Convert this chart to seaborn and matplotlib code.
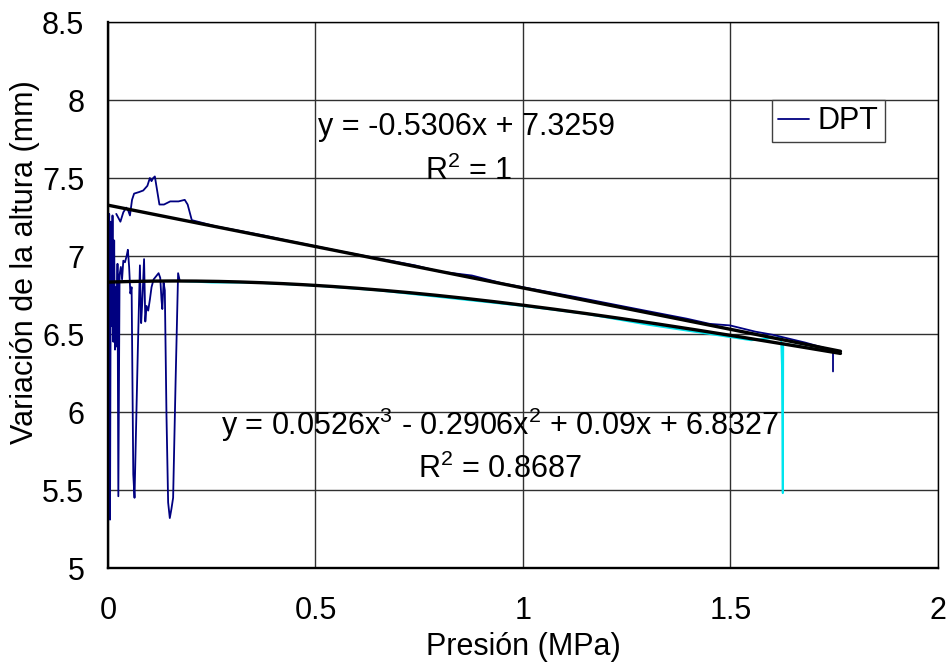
import numpy as np
import pandas as pd
import matplotlib
matplotlib.use("Agg")
import matplotlib.pyplot as plt
import seaborn as sns

# ---- DPT readings (pressure in MPa, height in mm) ----
# loading transient near zero pressure
dpt_low_x = [0.000, 0.003, 0.005, 0.007, 0.009, 0.011, 0.013, 0.015, 0.017, 0.019,
             0.021, 0.023, 0.025, 0.028, 0.031, 0.034, 0.037, 0.041, 0.045, 0.048,
             0.051, 0.054, 0.057, 0.061, 0.064, 0.068, 0.072, 0.077, 0.080, 0.083,
             0.087, 0.090, 0.093, 0.097, 0.101, 0.105, 0.110, 0.116, 0.122, 0.126,
             0.129, 0.131, 0.134, 0.137, 0.141, 0.145, 0.149, 0.153, 0.157, 0.163,
             0.169, 0.173]
dpt_low_y = [6.84, 7.27, 5.31, 7.22, 6.55, 7.26, 6.45, 7.10, 6.40, 6.80,
             6.42, 6.95, 5.46, 6.88, 6.93, 6.85, 6.97, 6.96, 7.00, 7.04,
             6.93, 6.76, 6.80, 5.60, 5.45, 5.93, 6.40, 6.94, 6.57, 6.72,
             6.98, 6.58, 6.68, 6.65, 6.72, 6.80, 6.85, 6.87, 6.89, 6.86,
             6.72, 6.66, 6.83, 6.78, 5.98, 5.42, 5.32, 5.38, 5.45, 6.20,
             6.89, 6.84]

# main compression run
dpt_main_x = [0.020, 0.030, 0.037, 0.044, 0.049, 0.053, 0.058, 0.063, 0.075, 0.085,
              0.095, 0.101, 0.105, 0.109, 0.113, 0.124, 0.135, 0.150, 0.170, 0.185,
              0.192, 0.202, 0.260, 0.320, 0.378, 0.430, 0.487, 0.560, 0.640, 0.740,
              0.800, 0.877, 0.950, 1.030, 1.125, 1.198, 1.294, 1.395, 1.450, 1.499,
              1.560, 1.602, 1.680, 1.747, 1.747]
dpt_main_y = [7.27, 7.22, 7.28, 7.31, 7.29, 7.26, 7.36, 7.40, 7.41, 7.42,
              7.45, 7.50, 7.48, 7.50, 7.51, 7.33, 7.33, 7.35, 7.35, 7.36,
              7.33, 7.23, 7.19, 7.16, 7.13, 7.10, 7.07, 7.03, 6.99, 6.94,
              6.90, 6.875, 6.825, 6.785, 6.738, 6.700, 6.650, 6.598, 6.565, 6.555,
              6.515, 6.495, 6.445, 6.395, 6.26]

# second run
run2_x = [0.173, 0.250, 0.350, 0.500, 0.650, 0.824, 1.000, 1.150, 1.300, 1.450,
          1.550, 1.622, 1.624, 1.626, 1.627, 1.690, 1.765]
run2_y = [6.84, 6.83, 6.83, 6.81, 6.78, 6.73, 6.68, 6.63, 6.56, 6.50,
          6.46, 6.48, 6.30, 5.48, 6.44, 6.41, 6.38]

# fitted trendlines (coefficients as printed)
lin_coef = [-0.5306, 7.3259]
poly_coef = [0.0526, -0.2906, 0.09, 6.8327]
fit_x_end = 1.765

x_ticks = [0, 0.5, 1, 1.5, 2]
x_tick_labels = ["0", "0.5", "1", "1.5", "2"]
y_ticks = [5, 5.5, 6, 6.5, 7, 7.5, 8, 8.5]
y_tick_labels = ["5", "5.5", "6", "6.5", "7", "7.5", "8", "8.5"]

sns.set_style("white")
plt.rcParams["font.family"] = ["Liberation Sans", "DejaVu Sans"]
plt.rcParams["mathtext.fontset"] = "custom"
plt.rcParams["mathtext.rm"] = "Liberation Sans"
plt.rcParams["text.color"] = "black"
plt.rcParams["axes.labelcolor"] = "black"

FS = 22
NAVY = "#000080"
CYAN = "#00E5EE"

fig = plt.figure(figsize=(9.52, 6.71), dpi=100)
ax = fig.add_axes([0.1134, 0.1535, 0.8719, 0.8137])

dpt = pd.DataFrame({
    "p": dpt_low_x + dpt_main_x,
    "h": dpt_low_y + dpt_main_y,
    "seg": [0] * len(dpt_low_x) + [1] * len(dpt_main_x),
})
run2 = pd.DataFrame({"p": run2_x, "h": run2_y})

sns.lineplot(data=run2, x="p", y="h", sort=False, estimator=None,
             color=CYAN, lw=1.4, ax=ax, legend=False)
sns.lineplot(data=dpt, x="p", y="h", units="seg", sort=False, estimator=None,
             color=NAVY, lw=1.3, ax=ax, legend=False)

fx = np.linspace(0, fit_x_end, 200)
fits = pd.DataFrame({"p": fx, "lin": np.polyval(lin_coef, fx),
                     "poly": np.polyval(poly_coef, fx)})
sns.lineplot(data=fits, x="p", y="lin", color="black", lw=2.4, ax=ax, legend=False)
sns.lineplot(data=fits, x="p", y="poly", color="black", lw=2.4, ax=ax, legend=False)

ax.set_xlim(0, 2)
ax.set_ylim(5, 8.5)
ax.set_xticks(x_ticks)
ax.set_xticklabels(x_tick_labels)
ax.set_yticks(y_ticks)
ax.set_yticklabels(y_tick_labels)
ax.tick_params(axis="both", labelsize=FS, length=6, width=1.0, color="#808080",
               direction="out", labelcolor="black")
ax.tick_params(axis="x", pad=14)
ax.tick_params(axis="y", pad=11)
ax.grid(True, color="#303030", lw=1.0)
ax.set_axisbelow(True)

for side in ["left", "bottom"]:
    ax.spines[side].set_color("black")
    ax.spines[side].set_linewidth(1.7)
for side in ["top", "right"]:
    ax.spines[side].set_color("black")
    ax.spines[side].set_linewidth(1.0)

ax.set_xlabel("Presión (MPa)", fontsize=FS)
ax.set_ylabel("Variación de la altura (mm)", fontsize=FS)
ax.xaxis.set_label_coords(0.5, -0.118)
ax.yaxis.set_label_coords(-0.082, 0.56)

ax.text(0.864, 7.776, "y = -0.5306x + 7.3259", fontsize=FS, ha="center", va="baseline")
ax.text(0.868, 7.487, r"R$^\mathregular{2}$ = 1", fontsize=FS, ha="center", va="baseline")
ax.text(0.946, 5.853,
        r"y = 0.0526x$^\mathregular{3}$ - 0.2906x$^\mathregular{2}$ + 0.09x + 6.8327",
        fontsize=FS, ha="center", va="baseline")
ax.text(0.945, 5.577, r"R$^\mathregular{2}$ = 0.8687", fontsize=FS, ha="center", va="baseline")

handle = plt.Line2D([], [], color=NAVY, lw=1.3)
leg = ax.legend([handle], ["DPT"], loc="upper left", bbox_to_anchor=(0.80, 0.857),
                borderaxespad=0, fontsize=FS, frameon=True, fancybox=False,
                handlelength=1.0, handletextpad=0.3, borderpad=0.2)
leg.get_frame().set_edgecolor("#404040")
leg.get_frame().set_linewidth(1.0)
leg.get_frame().set_alpha(1)

fig.savefig("out.png", dpi=100)
